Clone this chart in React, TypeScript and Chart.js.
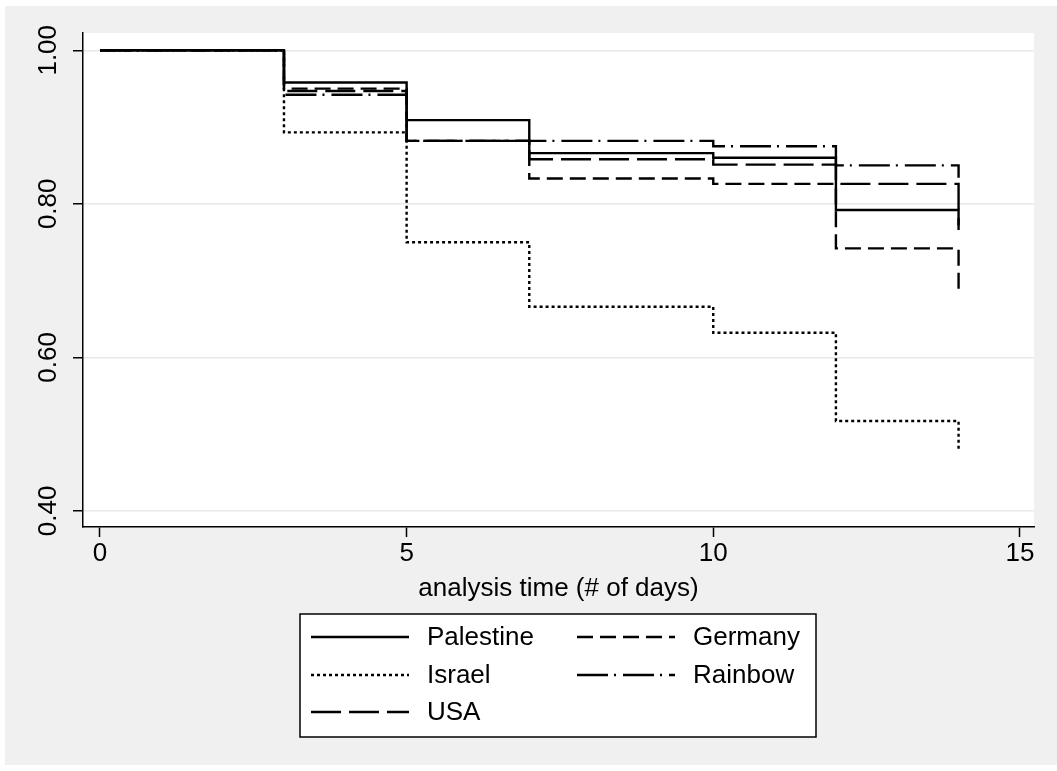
import React, { useEffect, useRef } from 'react';
import { Chart, registerables } from 'chart.js';

Chart.register(...registerables);

// ---- data ----
const times = [0, 3, 5, 7, 10, 12, 14];
const palestine = [1, 0.958, 0.909, 0.866, 0.86, 0.792, 0.766];
const israel = [1, 0.893, 0.75, 0.666, 0.632, 0.517, 0.479];
const usa = [1, 0.947, 0.882, 0.858, 0.851, 0.826, 0.772];
const germany = [1, 0.95, 0.882, 0.833, 0.826, 0.742, 0.685];
const rainbow = [1, 0.942, 0.882, 0.882, 0.875, 0.85, 0.834];

const xTicks = [0, 5, 10, 15];
const yTicks = [0.4, 0.6, 0.8, 1.0];
const yTickLabels = ['0.40', '0.60', '0.80', '1.00'];
const xTitle = 'analysis time (# of days)';

const seriesNames = ['Palestine', 'Israel', 'USA', 'Germany', 'Rainbow'];
const seriesValues = [palestine, israel, usa, germany, rainbow];
const seriesDash: number[][] = [[], [3, 3], [30, 8], [16, 7], [31, 6, 2, 7]];
// legend grid placement: [column, row]
const legendOrder = [
  [0, 0],
  [0, 1],
  [0, 2],
  [1, 0],
  [1, 1],
];

const W = 1057;
const H = 771;
const FONT = '"Liberation Sans", Arial, Helvetica, sans-serif';
const FS = 26;
const LW = 2.4;

const decor = {
  id: 'decor',
  beforeDraw(chart: any) {
    const { ctx, chartArea: a } = chart;
    ctx.save();
    ctx.fillStyle = '#ffffff';
    ctx.fillRect(0, 0, W, H);
    ctx.fillStyle = '#f0f0f0';
    ctx.fillRect(5, 6, W - 5, 759);
    ctx.fillStyle = '#ffffff';
    ctx.fillRect(a.left, a.top, a.right - a.left, a.bottom - a.top);
    ctx.restore();
  },
  afterDraw(chart: any) {
    const { ctx } = chart;
    const ys = chart.scales.y;
    ctx.save();
    ctx.fillStyle = '#000';
    ctx.font = `${FS}px ${FONT}`;
    ctx.textAlign = 'center';
    ctx.textBaseline = 'middle';
    yTicks.forEach((v, i) => {
      const py = ys.getPixelForValue(v);
      ctx.save();
      ctx.translate(49, py);
      ctx.rotate(-Math.PI / 2);
      ctx.fillText(yTickLabels[i], 0, 0);
      ctx.restore();
    });

    // legend
    const bx = 300, by = 614, bw = 516, bh = 123;
    ctx.fillStyle = '#ffffff';
    ctx.fillRect(bx, by, bw, bh);
    ctx.strokeStyle = '#000';
    ctx.lineWidth = 1.5;
    ctx.setLineDash([]);
    ctx.strokeRect(bx, by, bw, bh);
    const colLine = [311, 577];
    const colText = [427, 693];
    const rowY = [637, 675, 712];
    chart.data.datasets.forEach((ds: any, i: number) => {
      const [c, r] = legendOrder[i];
      const y = rowY[r];
      ctx.beginPath();
      ctx.setLineDash(ds.borderDash || []);
      ctx.lineWidth = LW;
      ctx.strokeStyle = '#000';
      ctx.moveTo(colLine[c], y);
      ctx.lineTo(colLine[c] + 98, y);
      ctx.stroke();
      ctx.setLineDash([]);
      ctx.fillStyle = '#000';
      ctx.textAlign = 'left';
      ctx.textBaseline = 'middle';
      ctx.font = `${FS}px ${FONT}`;
      ctx.fillText(ds.label, colText[c], y + 1);
    });
    ctx.restore();
  },
};

export default function App() {
  const ref = useRef<HTMLCanvasElement | null>(null);
  useEffect(() => {
    document.body.style.margin = '0';
    const canvas = ref.current;
    if (!canvas) return;
    const chart = new Chart(canvas, {
      type: 'line',
      data: {
        datasets: seriesNames.map((name, i) => ({
          label: name,
          data: times.map((t, j) => ({ x: t, y: seriesValues[i][j] })),
          stepped: true,
          borderColor: '#000',
          borderWidth: LW,
          borderDash: seriesDash[i],
          pointRadius: 0,
          fill: false,
          tension: 0,
        })),
      },
      options: {
        animation: false,
        responsive: false,
        devicePixelRatio: 1,
        layout: { padding: { left: 0, right: 23, top: 33, bottom: 165 } },
        plugins: { legend: { display: false }, tooltip: { enabled: false } },
        scales: {
          x: {
            type: 'linear',
            min: -0.277,
            max: 15.23,
            afterBuildTicks: (s: any) => {
              s.ticks = xTicks.map((v) => ({ value: v }));
            },
            afterFit: (s: any) => {
              s.height = 79;
            },
            grid: {
              drawOnChartArea: false,
              drawTicks: true,
              tickLength: 10,
              tickColor: '#000',
              tickWidth: 1.5,
            },
            border: { display: true, color: '#000', width: 1.5 },
            ticks: {
              color: '#000',
              font: { family: FONT, size: FS },
              padding: 1,
              maxRotation: 0,
              callback: (v: any) => String(v),
            },
            title: {
              display: true,
              text: xTitle,
              color: '#000',
              font: { family: FONT, size: FS },
              padding: { top: 4, bottom: 2 },
            },
          },
          y: {
            type: 'linear',
            min: 0.379,
            max: 1.0225,
            afterBuildTicks: (s: any) => {
              s.ticks = yTicks.map((v) => ({ value: v }));
            },
            afterFit: (s: any) => {
              s.width = 83;
            },
            grid: {
              color: '#e8e8e8',
              lineWidth: 1.5,
              drawTicks: true,
              tickLength: 10,
              tickColor: '#000',
              tickWidth: 1.5,
            },
            border: { display: true, color: '#000', width: 1.5 },
            ticks: { display: false },
          },
        },
      },
      plugins: [decor],
    } as any);
    return () => chart.destroy();
  }, []);
  return <canvas ref={ref} width={W} height={H} style={{ display: 'block' }} />;
}
